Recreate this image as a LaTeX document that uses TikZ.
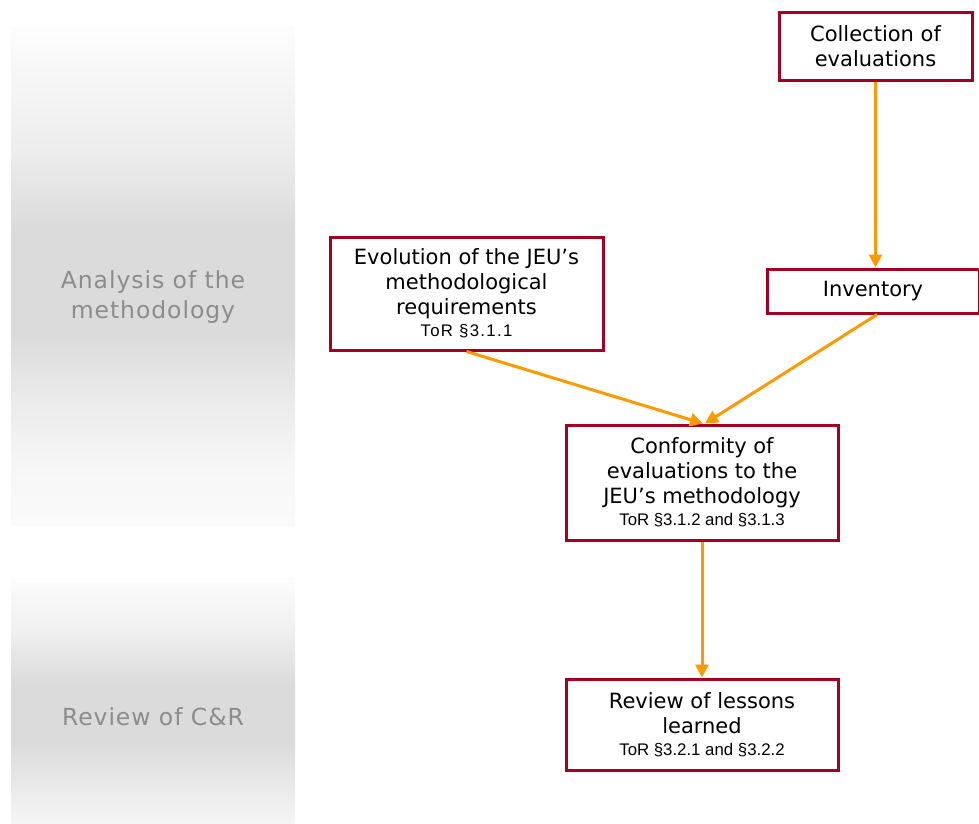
\documentclass[tikz,border=0pt]{standalone}
\usepackage{fontspec}
\setmainfont{DejaVu Sans}
\newfontfamily\smallfont{Liberation Sans}
\newfontfamily\labelfont[LetterSpace=4]{DejaVu Sans}
\usetikzlibrary{arrows.meta}
\definecolor{boxred}{HTML}{A50021}
\definecolor{arrorange}{HTML}{FF9900}
\definecolor{labelgray}{HTML}{8C8C8C}
\pgfdeclareverticalshading{bandA}{100bp}{color(0bp)=(black!2); color(25bp)=(black!2); color(30.5bp)=(black!3); color(37.5bp)=(black!8); color(44bp)=(black!14); color(55bp)=(black!14); color(62.5bp)=(black!7); color(75bp)=(black!1); color(100bp)=(black!1)}
\pgfdeclareverticalshading{bandB}{100bp}{color(0bp)=(black!4); color(25bp)=(black!4); color(31.7bp)=(black!8); color(41bp)=(black!14); color(53.7bp)=(black!14); color(64bp)=(black!6); color(75bp)=(black!1); color(100bp)=(black!1)}
\tikzset{
  box/.style={draw=boxred, line width=3pt, fill=white, align=center, inner sep=0pt,
    font=\fontsize{21}{25}\selectfont},
  flow/.style={draw=arrorange, line width=3pt, -{Triangle[length=13pt,width=13pt]}},
  bandlabel/.style={text=labelgray, align=center, font=\labelfont\fontsize{23.5}{30}\selectfont}
}
\newcommand{\tor}[1]{{\smallfont\fontsize{16.8}{18}\selectfont #1}}
\begin{document}
\begin{tikzpicture}[x=1pt,y=-1pt]
\useasboundingbox (0,0) rectangle (979,823);
\shade[shading=bandA] (11,26) rectangle (295,525);
\shade[shading=bandB] (11,577) rectangle (295,823);
\node[bandlabel] (lab1) at (153,297) {Analysis of the\\methodology};
\node[bandlabel] (lab2) at (153,717) {Review of C\&R};

\node[box, minimum width=193pt, minimum height=68pt] (coll) at (875.5,46) {Collection of\\evaluations};
\node[box, minimum width=212pt, minimum height=44pt] (inv) at (873,291) {Inventory};
\node[box, minimum width=273pt, minimum height=113pt] (evo) at (466.5,293.5) {Evolution of the JEU’s\\methodological\\requirements\\[-3pt]{\smallfont\addfontfeature{LetterSpace=8}\fontsize{16.8}{18}\selectfont ToR §3.1.1}};
\node[box, minimum width=272pt, minimum height=115pt] (conf) at (702,482.5) {Conformity of\\evaluations to the\\JEU’s methodology\\[-3pt]\tor{ToR §3.1.2 and §3.1.3}};
\node[box, minimum width=272pt, minimum height=91pt] (rev) at (702,724.5) {Review of lessons\\learned\\[-3pt]\tor{ToR §3.2.1 and §3.2.2}};

\draw[flow] (coll.south) -- (coll.south |- inv.north);
\draw[flow] (evo.south) -- ([xshift=1pt]conf.north);
\draw[flow] ([xshift=4pt]inv.south) -- ([xshift=3pt]conf.north);
\draw[flow] (conf.south) -- (rev.north);
\end{tikzpicture}
\end{document}
